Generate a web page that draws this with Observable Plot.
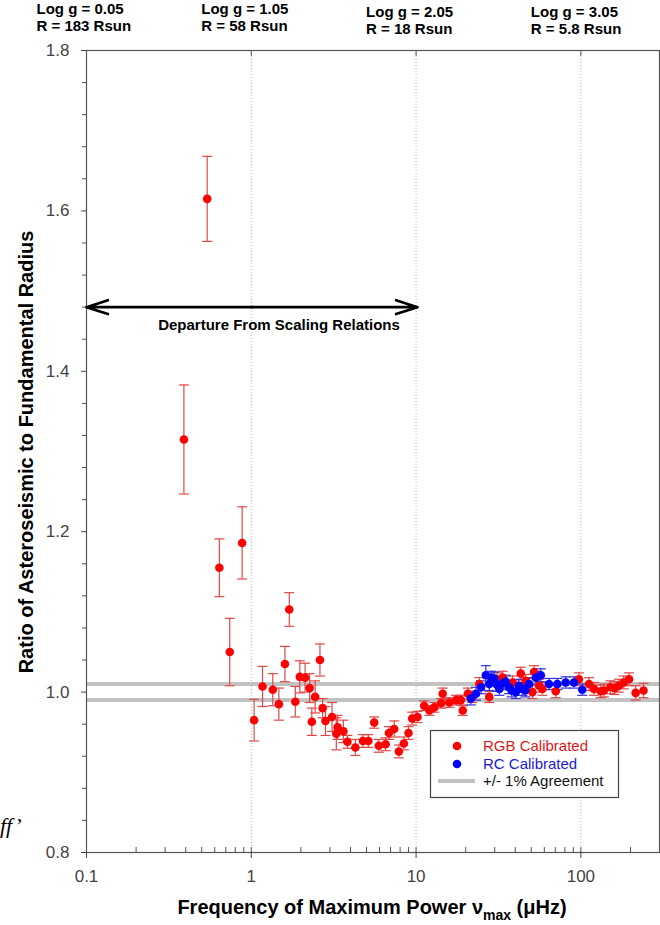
<!DOCTYPE html>
<html><head><meta charset="utf-8">
<script src="https://cdn.jsdelivr.net/npm/d3@7"></script>
<script src="https://cdn.jsdelivr.net/npm/@observablehq/plot@0.6"></script>
<style>body{margin:0;background:#fff;font-family:"Liberation Sans",Arial,sans-serif}</style>
</head><body><div id="chart"></div>
<script>
// RGB Calibrated: nu_max (μHz), ratio, error
const rgbX = [0.39,0.54,0.64,0.74,0.88,1.04,1.17,1.35,1.47,1.60,1.70,1.85,1.97,2.12,2.26,2.33,2.44,2.61,2.71,2.82,3.09,3.28,3.34,3.62,3.83,4.28,4.76,5.13,5.57,5.94,6.53,6.84,7.37,7.86,8.43,9.0,9.47,10.2,11.2,12.05,12.9,14.2,14.5,15.9,17.5,18.7,19.2,20.6,21.9,24.2,27.8,31,33.5,38.5,43.2,46.3,50.8,52,55.8,58.4,70.4,97.3,112,120,132,138,151,160,170,182,196,215,240];
const rgbY = [1.315,1.615,1.155,1.050,1.186,0.965,1.007,1.003,0.985,1.035,1.103,0.988,1.019,1.018,1.005,0.963,0.994,1.040,0.980,0.964,0.969,0.948,0.956,0.951,0.938,0.931,0.939,0.939,0.962,0.933,0.935,0.949,0.954,0.926,0.936,0.949,0.967,0.969,0.983,0.977,0.981,0.986,0.998,0.987,0.990,0.990,0.977,0.998,0.994,1.010,0.994,1.016,1.018,1.012,1.023,1.014,1.000,1.025,1.008,1.004,1.001,1.016,1.010,1.004,1.001,1.002,1.006,1.005,1.008,1.012,1.016,0.999,1.002];
const rgbErr = [0.068,0.053,0.036,0.042,0.045,0.026,0.025,0.020,0.020,0.022,0.021,0.019,0.020,0.018,0.018,0.017,0.020,0.020,0.012,0.018,0.018,0.020,0.015,0.014,0.008,0.010,0.008,0.008,0.007,0.008,0.008,0.008,0.010,0.008,0.008,0.008,0.008,0.007,0.006,0.006,0.006,0.006,0.007,0.006,0.006,0.006,0.006,0.007,0.007,0.008,0.007,0.008,0.008,0.008,0.008,0.008,0.008,0.008,0.008,0.008,0.008,0.008,0.008,0.008,0.008,0.008,0.008,0.008,0.008,0.008,0.008,0.009,0.009];

// RC Calibrated
const rcX = [21.5,23.1,24.8,26.5,27.8,28.6,29.8,31,32,33.5,35,36.7,38,40.3,42,44.2,46,48.5,53.3,57.1,64.1,72,80.9,90.8,102];
const rcY = [0.992,0.998,1.006,1.021,1.010,1.018,1.017,1.009,1.004,1.011,1.013,1.006,1.002,1.000,1.008,1.004,1.002,1.010,1.018,1.021,1.010,1.010,1.012,1.012,1.003];
const rcErr = [0.008,0.008,0.008,0.012,0.008,0.008,0.008,0.008,0.008,0.008,0.008,0.008,0.008,0.008,0.008,0.008,0.008,0.008,0.008,0.008,0.007,0.007,0.007,0.007,0.007];

const agreementBand = [0.99, 1.01];
const xTicks = [0.1, 1, 10, 100];
const xMinorTicks = [0.2,0.3,0.4,0.5,0.6,0.7,0.8,0.9,2,3,4,5,6,7,8,9,20,30,40,50,60,70,80,90,200];
const yTicks = [0.8, 1.0, 1.2, 1.4, 1.6, 1.8];
const yMinorTicks = [0.84,0.88,0.92,0.96,1.04,1.08,1.12,1.16,1.24,1.28,1.32,1.36,1.44,1.48,1.52,1.56,1.64,1.68,1.72,1.76];
const gridX = [1, 10, 100];
const topLabelX = [0.1, 1, 10, 100];
const topLabels = ["Log g = 0.05\nR = 183 Rsun", "Log g = 1.05\nR = 58 Rsun", "Log g = 2.05\nR = 18 Rsun", "Log g = 3.05\nR = 5.8 Rsun"];
const departureEnds = [0.1, 10.2];
const departureLevel = 1.48;
const departureText = "Departure From Scaling Relations";
const legendItems = ["RGB Calibrated", "RC Calibrated", "+/- 1% Agreement"];

const RED = "#ff0000", BLUE = "#0000ff", ERRRED = "#e04848", ERRBLUE = "#3030e0";
const red = rgbX.map((x, i) => ({x, y: rgbY[i], e: rgbErr[i]}));
const blue = rcX.map((x, i) => ({x, y: rcY[i], e: rcErr[i]}));
const capSymbol = {draw(ctx, size) { const r = Math.sqrt(size / Math.PI); ctx.moveTo(-r, 0); ctx.lineTo(r, 0); }};
const mid = Math.sqrt(departureEnds[0] * departureEnds[1]);
const labelsA = topLabelX.slice(0, 2).map((x, i) => ({x, t: topLabels[i]}));
const labelsB = topLabelX.slice(2).map((x, i) => ({x, t: topLabels[i + 2]}));

function errMarks(data, color) {
  return [
    Plot.ruleX(data, {x: "x", y1: d => d.y - d.e, y2: d => d.y + d.e, stroke: color, strokeWidth: 1.2}),
    Plot.dot(data, {x: "x", y: d => d.y + d.e, symbol: capSymbol, r: 5, stroke: color, fill: "none", strokeWidth: 1.2}),
    Plot.dot(data, {x: "x", y: d => d.y - d.e, symbol: capSymbol, r: 5, stroke: color, fill: "none", strokeWidth: 1.2})
  ];
}

const plot = Plot.plot({
  width: 660, height: 925,
  marginTop: 50, marginBottom: 73, marginLeft: 86, marginRight: 1,
  style: {fontFamily: "'Liberation Sans', Arial, sans-serif", background: "#fff", color: "#333"},
  x: {type: "log", domain: [0.1, 300]},
  y: {domain: [0.8, 1.8]},
  marks: [
    Plot.ruleX(gridX, {stroke: "#b0b0b0", strokeDasharray: "1,2", strokeWidth: 1}),
    Plot.ruleY(agreementBand, {stroke: "#c2c2c2", strokeWidth: 4}),
    Plot.frame({stroke: "#555", strokeWidth: 1.2}),
    Plot.axisY({ticks: yTicks, tickSize: 5, tickPadding: 12, tickFormat: d3.format(".1f"), fontSize: 17, label: null, color: "#444"}),
    Plot.axisY({ticks: yMinorTicks, tickSize: 4, tickFormat: () => "", label: null, color: "#555"}),
    Plot.axisX({ticks: xTicks, tickSize: 6, tickPadding: 11, tickFormat: d => String(d), fontSize: 17, label: null, color: "#444"}),
    Plot.axisX({ticks: xTicks, tickSize: -5, tickFormat: () => "", label: null, color: "#555"}),
    Plot.axisX({ticks: xMinorTicks, tickSize: -5, tickFormat: () => "", label: null, color: "#555"}),
    Plot.axisX({anchor: "top", ticks: gridX, tickSize: -5, tickFormat: () => "", label: null, color: "#555"}),
    Plot.arrow(departureEnds, {x1: () => mid, y1: () => departureLevel, x2: d => d, y2: () => departureLevel,
      stroke: "#000", strokeWidth: 2.6, headLength: 13, headAngle: 36}),
    Plot.text([departureText], {x: () => mid, y: () => departureLevel, text: d => d, dx: 27, dy: 18,
      fontWeight: "bold", fontSize: 15, fill: "#000"}),
    ...errMarks(red, ERRRED),
    ...errMarks(blue, ERRBLUE),
    Plot.dot(red, {x: "x", y: "y", r: 4.3, fill: RED}),
    Plot.dot(blue, {x: "x", y: "y", r: 4.3, fill: BLUE}),
    Plot.text(labelsA, {x: "x", text: "t", frameAnchor: "top", lineAnchor: "top", textAnchor: "start", dx: -50, dy: -48,
      fontWeight: "bold", fontSize: 15, lineHeight: 1.1, fill: "#000"}),
    Plot.text(labelsB, {x: "x", text: "t", frameAnchor: "top", lineAnchor: "top", textAnchor: "start", dx: -50, dy: -45,
      fontWeight: "bold", fontSize: 15, lineHeight: 1.1, fill: "#000"})
  ]
});

const svg = d3.select(plot);
const ff = "'Liberation Sans', Arial, sans-serif";
// axis titles
svg.append("text").attr("transform", "translate(28,452) rotate(-90)").attr("text-anchor", "middle")
  .attr("dominant-baseline", "middle").attr("font-family", ff).attr("font-weight", "bold").attr("font-size", 20)
  .attr("fill", "#000").text("Ratio of Asteroseismic to Fundamental Radius");
const xt = svg.append("text").attr("x", 372).attr("y", 914).attr("text-anchor", "middle")
  .attr("font-family", ff).attr("font-weight", "bold").attr("font-size", 20).attr("fill", "#000");
xt.append("tspan").text("Frequency of Maximum Power ν");
xt.append("tspan").attr("font-size", 14).attr("dy", 6).text("max");
xt.append("tspan").attr("dy", -6).text(" (μHz)");
// fragment at left edge
svg.append("text").attr("x", 0).attr("y", 833).attr("text-anchor", "start").attr("font-family", "'Liberation Serif', serif")
  .attr("font-style", "italic").attr("font-size", 22).attr("fill", "#000").text("ff’");
// legend
const lg = svg.append("g").attr("font-family", ff).attr("font-size", 15).attr("text-anchor", "start");
lg.append("rect").attr("x", 430.5).attr("y", 730.5).attr("width", 188).attr("height", 67)
  .attr("fill", "#fff").attr("stroke", "#444").attr("stroke-width", 1.2);
lg.append("circle").attr("cx", 457).attr("cy", 746).attr("r", 4.3).attr("fill", RED);
lg.append("circle").attr("cx", 457).attr("cy", 764).attr("r", 4.3).attr("fill", BLUE);
lg.append("line").attr("x1", 438).attr("x2", 475).attr("y1", 781).attr("y2", 781).attr("stroke", "#c2c2c2").attr("stroke-width", 4);
const lc = ["#e01818", "#1a1ad8", "#111"];
legendItems.forEach((t, i) => {
  lg.append("text").attr("x", 483).attr("y", 746 + i * 17.5).attr("dy", "0.35em").attr("fill", lc[i]).text(t);
});

document.getElementById("chart").appendChild(plot);
</script></body></html>
